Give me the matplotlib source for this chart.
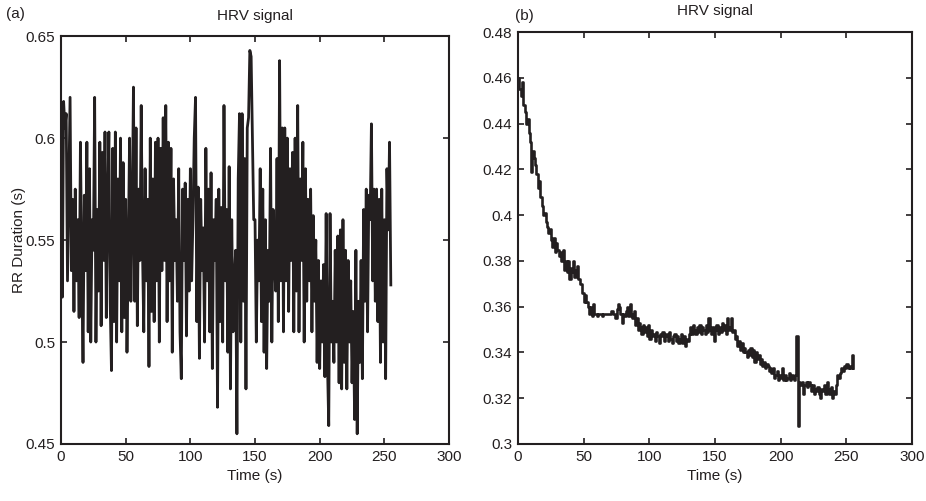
import matplotlib
matplotlib.use("Agg")
from matplotlib import pyplot as plt
from matplotlib.ticker import FuncFormatter
import numpy as np

plt.rcParams['font.family'] = ['Liberation Sans', 'DejaVu Sans']

# panel (a): raw RR durations, one sample per second
rr_a = [
    0.615, 0.522, 0.618, 0.605, 0.612, 0.530, 0.575, 0.620, 0.535, 0.570, 0.515, 0.575, 0.530, 0.560, 0.512, 0.598,
    0.540, 0.490, 0.572, 0.535, 0.598, 0.505, 0.585, 0.500, 0.560, 0.545, 0.620, 0.500, 0.565, 0.525, 0.598, 0.508,
    0.593, 0.540, 0.603, 0.512, 0.570, 0.603, 0.520, 0.486, 0.595, 0.510, 0.603, 0.500, 0.580, 0.530, 0.600, 0.505,
    0.588, 0.512, 0.570, 0.495, 0.545, 0.600, 0.520, 0.560, 0.625, 0.520, 0.605, 0.508, 0.575, 0.540, 0.616, 0.545,
    0.505, 0.585, 0.530, 0.570, 0.488, 0.600, 0.515, 0.580, 0.510, 0.598, 0.530, 0.600, 0.500, 0.595, 0.535, 0.610,
    0.540, 0.616, 0.510, 0.598, 0.530, 0.595, 0.495, 0.580, 0.540, 0.560, 0.520, 0.585, 0.505, 0.482, 0.575, 0.540,
    0.578, 0.503, 0.570, 0.525, 0.585, 0.530, 0.560, 0.600, 0.620, 0.510, 0.576, 0.492, 0.570, 0.535, 0.556, 0.500,
    0.595, 0.530, 0.575, 0.505, 0.583, 0.487, 0.560, 0.540, 0.570, 0.468, 0.575, 0.510, 0.566, 0.500, 0.616, 0.530,
    0.565, 0.495, 0.586, 0.477, 0.560, 0.505, 0.530, 0.545, 0.455, 0.580, 0.612, 0.500, 0.612, 0.520, 0.590, 0.477,
    0.605, 0.610, 0.643, 0.640, 0.600, 0.560, 0.560, 0.500, 0.550, 0.530, 0.585, 0.510, 0.575, 0.495, 0.560, 0.487,
    0.545, 0.520, 0.595, 0.500, 0.565, 0.540, 0.525, 0.590, 0.510, 0.638, 0.530, 0.605, 0.505, 0.605, 0.530, 0.600,
    0.515, 0.585, 0.540, 0.593, 0.505, 0.600, 0.525, 0.616, 0.505, 0.580, 0.540, 0.598, 0.500, 0.585, 0.520, 0.570,
    0.530, 0.575, 0.505, 0.562, 0.520, 0.550, 0.490, 0.540, 0.487, 0.530, 0.500, 0.538, 0.483, 0.563, 0.490, 0.459,
    0.563, 0.500, 0.520, 0.490, 0.545, 0.500, 0.552, 0.480, 0.555, 0.477, 0.560, 0.490, 0.545, 0.477, 0.540, 0.500,
    0.530, 0.480, 0.515, 0.462, 0.545, 0.455, 0.520, 0.490, 0.540, 0.482, 0.565, 0.520, 0.575, 0.505, 0.572, 0.560,
    0.607, 0.530, 0.575, 0.520, 0.575, 0.510, 0.570, 0.490, 0.575, 0.500, 0.560, 0.482, 0.585, 0.555, 0.598, 0.528,
]

# panel (b): HRV signal during exercise
rr_b = [
    0.460, 0.455, 0.452, 0.458, 0.448, 0.445, 0.440, 0.442, 0.436, 0.432, 0.419, 0.428, 0.425, 0.422, 0.418, 0.412,
    0.415, 0.408, 0.404, 0.400, 0.401, 0.397, 0.395, 0.392, 0.394, 0.389, 0.386, 0.390, 0.384, 0.388, 0.385, 0.382,
    0.384, 0.380, 0.385, 0.376, 0.380, 0.375, 0.380, 0.372, 0.377, 0.375, 0.380, 0.373, 0.376, 0.378, 0.372, 0.370,
    0.370, 0.366, 0.362, 0.365, 0.362, 0.360, 0.357, 0.360, 0.356, 0.361, 0.357, 0.357, 0.356, 0.357, 0.357, 0.357,
    0.356, 0.357, 0.357, 0.357, 0.357, 0.357, 0.357, 0.358, 0.357, 0.357, 0.355, 0.359, 0.361, 0.360, 0.357, 0.353,
    0.357, 0.356, 0.358, 0.360, 0.356, 0.361, 0.357, 0.355, 0.358, 0.352, 0.355, 0.350, 0.353, 0.351, 0.348, 0.352,
    0.349, 0.351, 0.347, 0.352, 0.346, 0.350, 0.347, 0.348, 0.345, 0.349, 0.347, 0.344, 0.348, 0.347, 0.349, 0.345,
    0.347, 0.348, 0.345, 0.349, 0.346, 0.344, 0.347, 0.348, 0.345, 0.347, 0.344, 0.346, 0.348, 0.344, 0.347, 0.343,
    0.346, 0.345, 0.348, 0.351, 0.348, 0.352, 0.350, 0.348, 0.351, 0.349, 0.352, 0.348, 0.351, 0.350, 0.348, 0.352,
    0.349, 0.355, 0.350, 0.348, 0.351, 0.345, 0.350, 0.352, 0.348, 0.351, 0.349, 0.353, 0.350, 0.352, 0.348, 0.355,
    0.351, 0.350, 0.355, 0.349, 0.350, 0.346, 0.347, 0.343, 0.345, 0.341, 0.344, 0.340, 0.342, 0.340, 0.338, 0.341,
    0.339, 0.342, 0.338, 0.341, 0.336, 0.340, 0.337, 0.339, 0.335, 0.337, 0.334, 0.336, 0.333, 0.335, 0.334, 0.332,
    0.333, 0.331, 0.333, 0.329, 0.330, 0.332, 0.328, 0.330, 0.329, 0.333, 0.328, 0.330, 0.328, 0.329, 0.331, 0.328,
    0.330, 0.329, 0.328, 0.330, 0.347, 0.308, 0.327, 0.326, 0.327, 0.322, 0.326, 0.327, 0.325, 0.327, 0.326, 0.323,
    0.326, 0.322, 0.324, 0.323, 0.325, 0.322, 0.320, 0.324, 0.323, 0.326, 0.322, 0.327, 0.324, 0.322, 0.325, 0.320,
    0.323, 0.322, 0.326, 0.330, 0.329, 0.331, 0.333, 0.332, 0.334, 0.333, 0.335, 0.333, 0.334, 0.333, 0.339, 0.333,
]

time_a = np.arange(len(rr_a))
time_b = np.arange(len(rr_b))

line_color = '#231f20'
fmt = FuncFormatter(lambda v, pos: '%g' % round(v, 3))


def style_axes(ax, ylim, yticks):
    ax.set_xlim(0, 300)
    ax.set_ylim(*ylim)
    ax.set_xticks([0, 50, 100, 150, 200, 250, 300])
    ax.set_yticks(yticks)
    ax.yaxis.set_major_formatter(fmt)
    ax.tick_params(direction='in', top=True, right=True, length=4, width=1.2,
                   labelsize=11, pad=4, colors='#231f20')
    for s in ax.spines.values():
        s.set_linewidth(1.5)
        s.set_color('#231f20')
    ax.set_title('HRV signal', fontsize=11, pad=12, color='#231f20')
    ax.set_xlabel('Time (s)', fontsize=11, labelpad=4, color='#231f20')


fig = plt.figure(figsize=(9.26, 5.01), dpi=100)

ax1 = fig.add_axes([0.0659, 0.1138, 0.419, 0.814])
ax1.plot(time_a, rr_a, color=line_color, lw=2.0)
style_axes(ax1, (0.45, 0.65), [0.45, 0.5, 0.55, 0.6, 0.65])
ax1.set_ylabel('RR Duration (s)', fontsize=11, labelpad=0, color='#231f20')
fig.text(0.006, 0.972, '(a)', fontsize=11, color='#231f20', va='center')

ax2 = fig.add_axes([0.5594, 0.1138, 0.4255, 0.822])
ax2.plot(time_b, rr_b, color=line_color, lw=1.9, drawstyle='steps-post')
style_axes(ax2, (0.30, 0.48), [0.3, 0.32, 0.34, 0.36, 0.38, 0.4, 0.42, 0.44, 0.46, 0.48])
fig.text(0.556, 0.968, '(b)', fontsize=11, color='#231f20', va='center')

fig.savefig('out.png', dpi=100)
